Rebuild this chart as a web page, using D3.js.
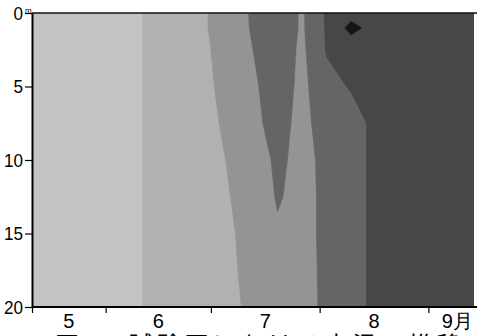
<!DOCTYPE html>
<html><head><meta charset="utf-8">
<script src="https://cdn.jsdelivr.net/npm/d3@7"></script>
<style>body{margin:0;background:#fff;overflow:hidden} svg{display:block}</style>
</head><body>
<script>
// sampling dates (columns of the grid)
const sampleDates = ["1990-05-11","1990-05-25","1990-06-08","1990-06-15","1990-06-22","1990-07-01","1990-07-08","1990-07-13","1990-07-20","1990-07-27","1990-08-03","1990-08-10","1990-08-17","1990-08-31","1990-09-14"];
// depths (m)
const depths = [0, 1, 2.5, 5, 7.5, 10, 12.5, 15, 17.5, 20];
// water temperature (°C), one row per sampling date, one value per depth
const temps = [
  [18.5,18.5,18.5,18.5,18.5,18.5,18.5,18.5,18.5,18.5],
  [19.0,19.0,19.0,19.0,19.0,19.0,19.0,19.0,19.0,19.0],
  [19.6,19.6,19.6,19.6,19.6,19.6,19.6,19.6,19.6,19.6],
  [20.4,20.4,20.4,20.4,20.4,20.4,20.4,20.4,20.4,20.4],
  [21.0,21.0,21.0,21.0,21.0,21.0,21.0,21.0,21.0,21.0],
  [22.1,22.1,22.0,21.9,21.8,21.7,21.6,21.5,21.5,21.5],
  [23.0,23.0,22.9,22.6,22.4,22.2,22.1,22.0,21.9,21.8],
  [25.0,24.9,24.5,24.25,24.1,23.4,23.0,22.8,22.6,22.4],
  [25.5,25.5,25.4,25.3,25.1,24.9,24.7,24.2,23.5,23.3],
  [24.3,24.3,24.2,24.1,24.0,23.9,23.8,23.8,23.7,23.6],
  [26.2,26.15,26.1,25.6,25.3,25.0,25.0,25.0,25.0,25.0],
  [26.6,27.3,26.4,26.1,25.5,25.5,25.5,25.5,25.5,25.5],
  [26.6,26.6,26.5,26.4,26.3,26.3,26.3,26.3,26.3,26.3],
  [26.7,26.7,26.6,26.5,26.4,26.4,26.4,26.4,26.4,26.4],
  [26.5,26.5,26.5,26.4,26.3,26.3,26.3,26.3,26.3,26.3]
];
const levels = [20, 22, 24.5, 26, 27];
const levelColors = ["#c3c3c3", "#b1b1b1", "#949494", "#656565", "#474747", "#151515"];
const depthTicks = [0, 5, 10, 15, 20];
const monthTicks = ["1990-06-01","1990-07-01","1990-08-01","1990-09-01"];
const monthLabels = ["5", "6", "7", "8", "9月"];
const caption = "図3　試験区における水温の推移";

const W = 477, H = 336;
const M = {left: 32, right: 474, top: 13, bottom: 307};
const parse = d3.timeParse("%Y-%m-%d");
const dates = sampleDates.map(parse);
const x = d3.scaleTime().domain([dates[0], dates[dates.length - 1]]).range([M.left, M.right]);
const y = d3.scaleLinear().domain([0, 20]).range([M.top, M.bottom]);

const svg = d3.select("body").append("svg").attr("width", W).attr("height", H);
const font = "'Liberation Sans',Arial,sans-serif";

svg.append("clipPath").attr("id", "plot").append("rect")
  .attr("x", M.left).attr("y", M.top).attr("width", M.right - M.left).attr("height", M.bottom - M.top);

const n = dates.length, m = depths.length;
const values = new Array(n * m);
for (let i = 0; i < n; i++) for (let j = 0; j < m; j++) values[j * n + i] = temps[i][j];

const xi = d3.scaleLinear().domain(d3.range(n)).range(dates.map(d => x(d)));
const yi = d3.scaleLinear().domain(d3.range(m)).range(depths.map(d => y(d)));
const cl = (v, hi) => Math.max(0, Math.min(hi, v));
const proj = d3.geoTransform({
  point(px, py) { this.stream.point(xi(cl(px - 0.5, n - 1)), yi(cl(py - 0.5, m - 1))); }
});
const path = d3.geoPath(proj);
const contours = d3.contours().size([n, m]).thresholds(levels)(values);

const g = svg.append("g").attr("clip-path", "url(#plot)");
g.append("rect").attr("x", M.left).attr("y", M.top)
  .attr("width", M.right - M.left).attr("height", M.bottom - M.top)
  .attr("fill", levelColors[0]);
g.selectAll("path.band").data(contours).join("path")
  .attr("class", "band")
  .attr("d", path)
  .attr("fill", (d, i) => levelColors[i + 1])
  .attr("stroke", (d, i) => levelColors[i + 1])
  .attr("stroke-width", 0.6);

// top border
svg.append("line").attr("x1", M.left).attr("x2", W).attr("y1", M.top).attr("y2", M.top)
  .attr("stroke", "#111").attr("stroke-width", 1.5);

// left axis
const ya = svg.append("g").attr("transform", `translate(${M.left},0)`)
  .call(d3.axisLeft(y).tickValues(depthTicks).tickSize(7).tickSizeOuter(0).tickPadding(1));
ya.select(".domain").attr("stroke", "#000").attr("stroke-width", 2);
ya.selectAll(".tick line").attr("stroke", "#000").attr("stroke-width", 1.2);
ya.selectAll(".tick text").attr("font-family", font).attr("font-size", 19).attr("fill", "#000")
  .attr("transform", "scale(0.9,1)").attr("x", -10);
svg.append("text").attr("x", 25).attr("y", 13).attr("font-family", font)
  .attr("font-size", 8).attr("fill", "#000").text("m");

// bottom axis
const xa = svg.append("g").attr("transform", `translate(0,${M.bottom})`)
  .call(d3.axisBottom(x).tickValues([dates[0], ...monthTicks.map(parse)]).tickSize(6).tickSizeOuter(0).tickFormat(""));
xa.select(".domain").attr("stroke", "#000").attr("stroke-width", 2).attr("d", `M${M.left},0H${W}`);
xa.selectAll(".tick line").attr("stroke", "#000").attr("stroke-width", 1.2);

const bounds = [dates[0], ...monthTicks.map(parse), dates[dates.length - 1]];
svg.selectAll("text.month").data(monthLabels).join("text")
  .attr("class", "month")
  .attr("x", (d, i) => (x(bounds[i]) + x(bounds[i + 1])) / 2 + (i === 4 ? 6 : 0))
  .attr("y", 328)
  .attr("text-anchor", "middle")
  .attr("font-family", font).attr("font-size", 20).attr("fill", "#000")
  .text(d => d);

svg.append("text").attr("x", 55).attr("y", 354)
  .attr("font-family", "'Noto Sans CJK JP',sans-serif").attr("font-size", 24)
  .attr("letter-spacing", 4).attr("fill", "#000").text(caption);
</script>
</body></html>
